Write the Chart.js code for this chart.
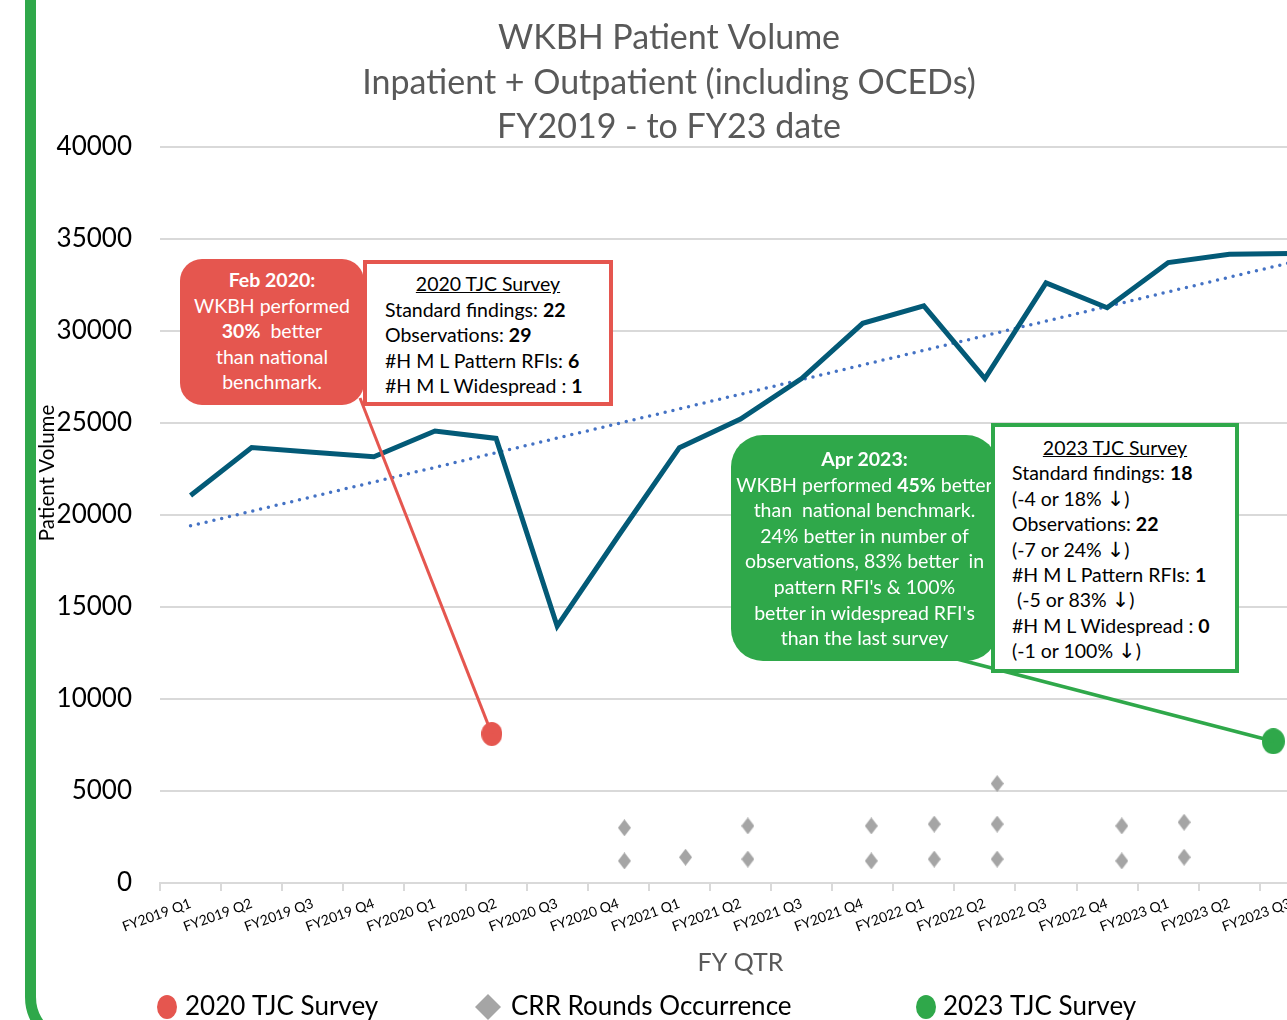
<!DOCTYPE html>
<html>
<head>
<meta charset="utf-8">
<script src="https://cdn.jsdelivr.net/npm/chart.js@4.4.0/dist/chart.umd.min.js"></script>
<style>
  html, body { margin:0; padding:0; background:#fff; overflow:hidden; width:1287px; height:1020px; }
  #wrap { position:relative; width:1338px; height:1060px; font-family: Lato, "Open Sans", sans-serif; }
  #chart { position:absolute; left:0; top:0; }
  #frame { position:absolute; left:25px; top:-60px; width:1400px; height:1109px; border:11px solid #2FA84A;
           border-radius:52px; box-sizing:border-box; pointer-events:none; }
  #ytitle { position:absolute; left:46px; top:473px; transform:translate(-50%,-50%) rotate(-90deg);
            font-size:20.5px; color:#000; white-space:nowrap; }
  .note { position:absolute; box-sizing:border-box; white-space:nowrap; font-size:19.5px; line-height:25.6px; }
  .fill { color:#fff; text-align:center; }
  .frame { background:#fff; color:#000; }
  .head { text-decoration:underline; text-align:center; }
  .arr { font-family:"DejaVu Sans", sans-serif; font-size:21px; line-height:10px; }
  #c2020 { left:180px; top:259px; width:184px; height:146px; background:#E5564F; border-radius:22px; padding-top:8px; }
  #b2020 { left:363px; top:260px; width:250px; height:146px; border:4px solid #E5564F; padding:7px 0 0 18px; }
  #b2020 .head { margin-left:-18px; }
  #c2023 { left:731px; top:435px; width:267px; height:226px; background:#2FA84A; border-radius:32px; padding-top:11px; }
  #b2023 { left:991px; top:423px; width:248px; height:250px; border:4px solid #2FA84A; padding:8px 0 0 17px; line-height:25.4px; }
  #b2023 .head { margin-left:-17px; }
</style>
</head>
<body>
<div id="wrap">
  <canvas id="chart" width="1338" height="1060"></canvas>
  <div id="frame"></div>
  <div id="ytitle">Patient Volume</div>

  <div class="note fill" id="c2020">
    <b>Feb 2020:</b><br>WKBH performed<br><b>30%</b>&nbsp; better<br>than national<br>benchmark.
  </div>
  <div class="note frame" id="b2020">
    <div class="head">2020 TJC Survey</div>
    Standard findings: <b>22</b><br>
    Observations: <b>29</b><br>
    #H M L Pattern RFIs: <b>6</b><br>
    #H M L Widespread : <b>1</b>
  </div>

  <div class="note fill" id="c2023">
    <b>Apr 2023:</b><br>WKBH performed <b>45%</b> better<br>than&nbsp; national benchmark.<br>24% better in number of<br>observations, 83% better&nbsp; in<br>pattern RFI's &amp; 100%<br>better in widespread RFI's<br>than the last survey
  </div>
  <div class="note frame" id="b2023">
    <div class="head">2023 TJC Survey</div>
    Standard findings: <b>18</b><br>
    (-4 or 18% <span class="arr">↓</span>)<br>
    Observations: <b>22</b><br>
    (-7 or 24% <span class="arr">↓</span>)<br>
    #H M L Pattern RFIs: <b>1</b><br>
    &nbsp;(-5 or 83% <span class="arr">↓</span>)<br>
    #H M L Widespread : <b>0</b><br>
    (-1 or 100% <span class="arr">↓</span>)
  </div>
</div>

<script>
// --- data ---
const quarters = ['FY2019 Q1', 'FY2019 Q2', 'FY2019 Q3', 'FY2019 Q4', 'FY2020 Q1', 'FY2020 Q2', 'FY2020 Q3',
  'FY2020 Q4', 'FY2021 Q1', 'FY2021 Q2', 'FY2021 Q3', 'FY2021 Q4', 'FY2022 Q1', 'FY2022 Q2', 'FY2022 Q3',
  'FY2022 Q4', 'FY2023 Q1', 'FY2023 Q2', 'FY2023 Q3'];
const patientVolume = [21050, 23650, 23400, 23150, 24550, 24150, 13950, 18850, 23650, 25200, 27400,
  30400, 31350, 27400, 32600, 31250, 33700, 34150, 34200];
// linear trend, only the two ends are read
const trendVolume = [19400, null, null, null, null, null, null, null, null, null, null, null, null, null, null, null, null, null, 33700];

// survey dots and CRR rounds sit between quarters (x = quarter index)
const survey2020Quarter = [4.93];
const survey2020Value = [8100];
const survey2023Quarter = [17.72];
const survey2023Value = [7700];
const crrQuarter = [7.1, 7.1, 8.1, 9.12, 9.12, 11.14, 11.14, 12.17, 12.17, 13.2, 13.2, 13.2, 15.24, 15.24, 16.26, 16.26];
const crrValue = [3000, 1200, 1400, 3100, 1300, 3100, 1200, 3200, 1300, 5400, 3200, 1300, 3100, 1200, 3300, 1400];

const yTicks = [0, 5000, 10000, 15000, 20000, 25000, 30000, 35000, 40000];

const RED = '#E5564F';
const GREEN = '#2FA84A';
const GREY = '#A5A5A5';
const TEAL = '#035A77';

const toPoints = (xs, ys) => xs.map((x, i) => ({x: x, y: ys[i]}));

function shape(w, h, color, kind) {
  const c = document.createElement('canvas');
  c.width = w; c.height = h;
  const g = c.getContext('2d');
  g.fillStyle = color;
  g.beginPath();
  if (kind === 'diamond') {
    g.moveTo(w / 2, 0); g.lineTo(w, h / 2); g.lineTo(w / 2, h); g.lineTo(0, h / 2); g.closePath();
  } else {
    g.ellipse(w / 2, h / 2, w / 2, h / 2, 0, 0, Math.PI * 2);
  }
  g.fill();
  return c;
}

// lines from the callouts down to the survey dots
const connectors = {
  id: 'connectors',
  afterDatasetsDraw(chart) {
    const ctx = chart.ctx;
    const lines = [
      {ds: 2, from: [360, 398], color: RED, width: 3},
      {ds: 4, from: [930, 652], color: GREEN, width: 3.5}
    ];
    ctx.save();
    lines.forEach(l => {
      const p = chart.getDatasetMeta(l.ds).data[0];
      ctx.strokeStyle = l.color;
      ctx.lineWidth = l.width;
      ctx.beginPath();
      ctx.moveTo(l.from[0], l.from[1]);
      ctx.lineTo(p.x, p.y);
      ctx.stroke();
    });
    ctx.restore();
  }
};

// legend spread out like the original
const spreadLegend = {
  id: 'spreadLegend',
  afterDraw(chart) {
    const ctx = chart.ctx;
    const items = [
      {ds: 2, kind: 'dot', color: RED, mx: 167, tx: 185},
      {ds: 3, kind: 'diamond', color: GREY, mx: 488, tx: 511},
      {ds: 4, kind: 'dot', color: GREEN, mx: 926, tx: 943}
    ];
    const y = 1007;
    ctx.save();
    ctx.font = '26px Lato';
    ctx.textBaseline = 'middle';
    items.forEach(it => {
      ctx.fillStyle = it.color;
      ctx.beginPath();
      if (it.kind === 'dot') {
        ctx.ellipse(it.mx, y, 10, 12, 0, 0, Math.PI * 2);
      } else {
        ctx.moveTo(it.mx, y - 13); ctx.lineTo(it.mx + 13, y); ctx.lineTo(it.mx, y + 13); ctx.lineTo(it.mx - 13, y); ctx.closePath();
      }
      ctx.fill();
      ctx.fillStyle = '#000';
      ctx.fillText(chart.data.datasets[it.ds].label, it.tx, y);
    });
    ctx.restore();
  }
};

const ctx = document.getElementById('chart').getContext('2d');
const chart = new Chart(ctx, {
  type: 'line',
  data: {
    labels: quarters,
    datasets: [
      {
        label: 'Patient Volume',
        data: patientVolume,
        borderColor: TEAL,
        borderWidth: 5,
        borderJoinStyle: 'miter',
        pointRadius: 0,
        tension: 0
      },
      {
        label: 'Linear (Patient Volume)',
        data: trendVolume,
        spanGaps: true,
        borderColor: '#4472C4',
        borderWidth: 3.5,
        borderDash: [0, 8],
        borderCapStyle: 'round',
        pointRadius: 0
      },
      {
        type: 'scatter',
        label: '2020 TJC Survey',
        data: toPoints(survey2020Quarter, survey2020Value),
        xAxisID: 'x2',
        pointStyle: shape(21, 24, RED, 'dot'),
        pointRadius: 10,
        backgroundColor: RED,
        borderColor: RED
      },
      {
        type: 'scatter',
        label: 'CRR Rounds Occurrence',
        data: toPoints(crrQuarter, crrValue),
        xAxisID: 'x2',
        pointStyle: shape(13, 17, GREY, 'diamond'),
        pointRadius: 7,
        backgroundColor: GREY,
        borderColor: GREY
      },
      {
        type: 'scatter',
        label: '2023 TJC Survey',
        data: toPoints(survey2023Quarter, survey2023Value),
        xAxisID: 'x2',
        pointStyle: shape(23, 26, GREEN, 'dot'),
        pointRadius: 11,
        backgroundColor: GREEN,
        borderColor: GREEN
      }
    ]
  },
  options: {
    responsive: false,
    animation: false,
    layout: { padding: { left: 0, right: 0, top: 0, bottom: 77 } },
    plugins: {
      legend: { display: false },
      tooltip: { enabled: false },
      title: {
        display: true,
        text: ['WKBH Patient Volume', 'Inpatient + Outpatient (including OCEDs)', 'FY2019 - to FY23 date'],
        color: '#595959',
        font: { family: 'Lato', size: 34, weight: 'normal', lineHeight: 1.31 },
        padding: { top: 16, bottom: -3 }
      }
    },
    scales: {
      x: {
        type: 'category',
        offset: true,
        ticks: {
          color: '#000',
          font: { family: 'Lato', size: 14 },
          minRotation: 20,
          maxRotation: 20,
          autoSkip: false,
          padding: 4
        },
        grid: { drawOnChartArea: false, color: '#D9D9D9', lineWidth: 2, tickLength: 8, offset: true },
        border: { color: '#D9D9D9', width: 2 },
        title: {
          display: true,
          text: 'FY QTR',
          color: '#595959',
          font: { family: 'Lato', size: 25 },
          padding: { top: 0, bottom: 5 }
        },
        afterFit: s => { s.height = 100; }
      },
      x2: { type: 'linear', display: false, min: -0.5, max: 18.5 },
      y: {
        min: 0,
        max: 40000,
        afterBuildTicks: s => { s.ticks = yTicks.map(v => ({value: v})); },
        ticks: { color: '#000', font: { family: 'Lato', size: 26 }, padding: 28, callback: v => String(v) },
        grid: { color: '#D9D9D9', lineWidth: 2, drawTicks: false },
        border: { display: false },
        afterFit: s => { s.width = 160; }
      },
      yRight: {
        position: 'right',
        display: true,
        ticks: { display: false },
        grid: { display: false },
        border: { display: false },
        afterFit: s => { s.width = 17; }
      }
    }
  },
  plugins: [connectors, spreadLegend]
});
</script>
</body>
</html>
